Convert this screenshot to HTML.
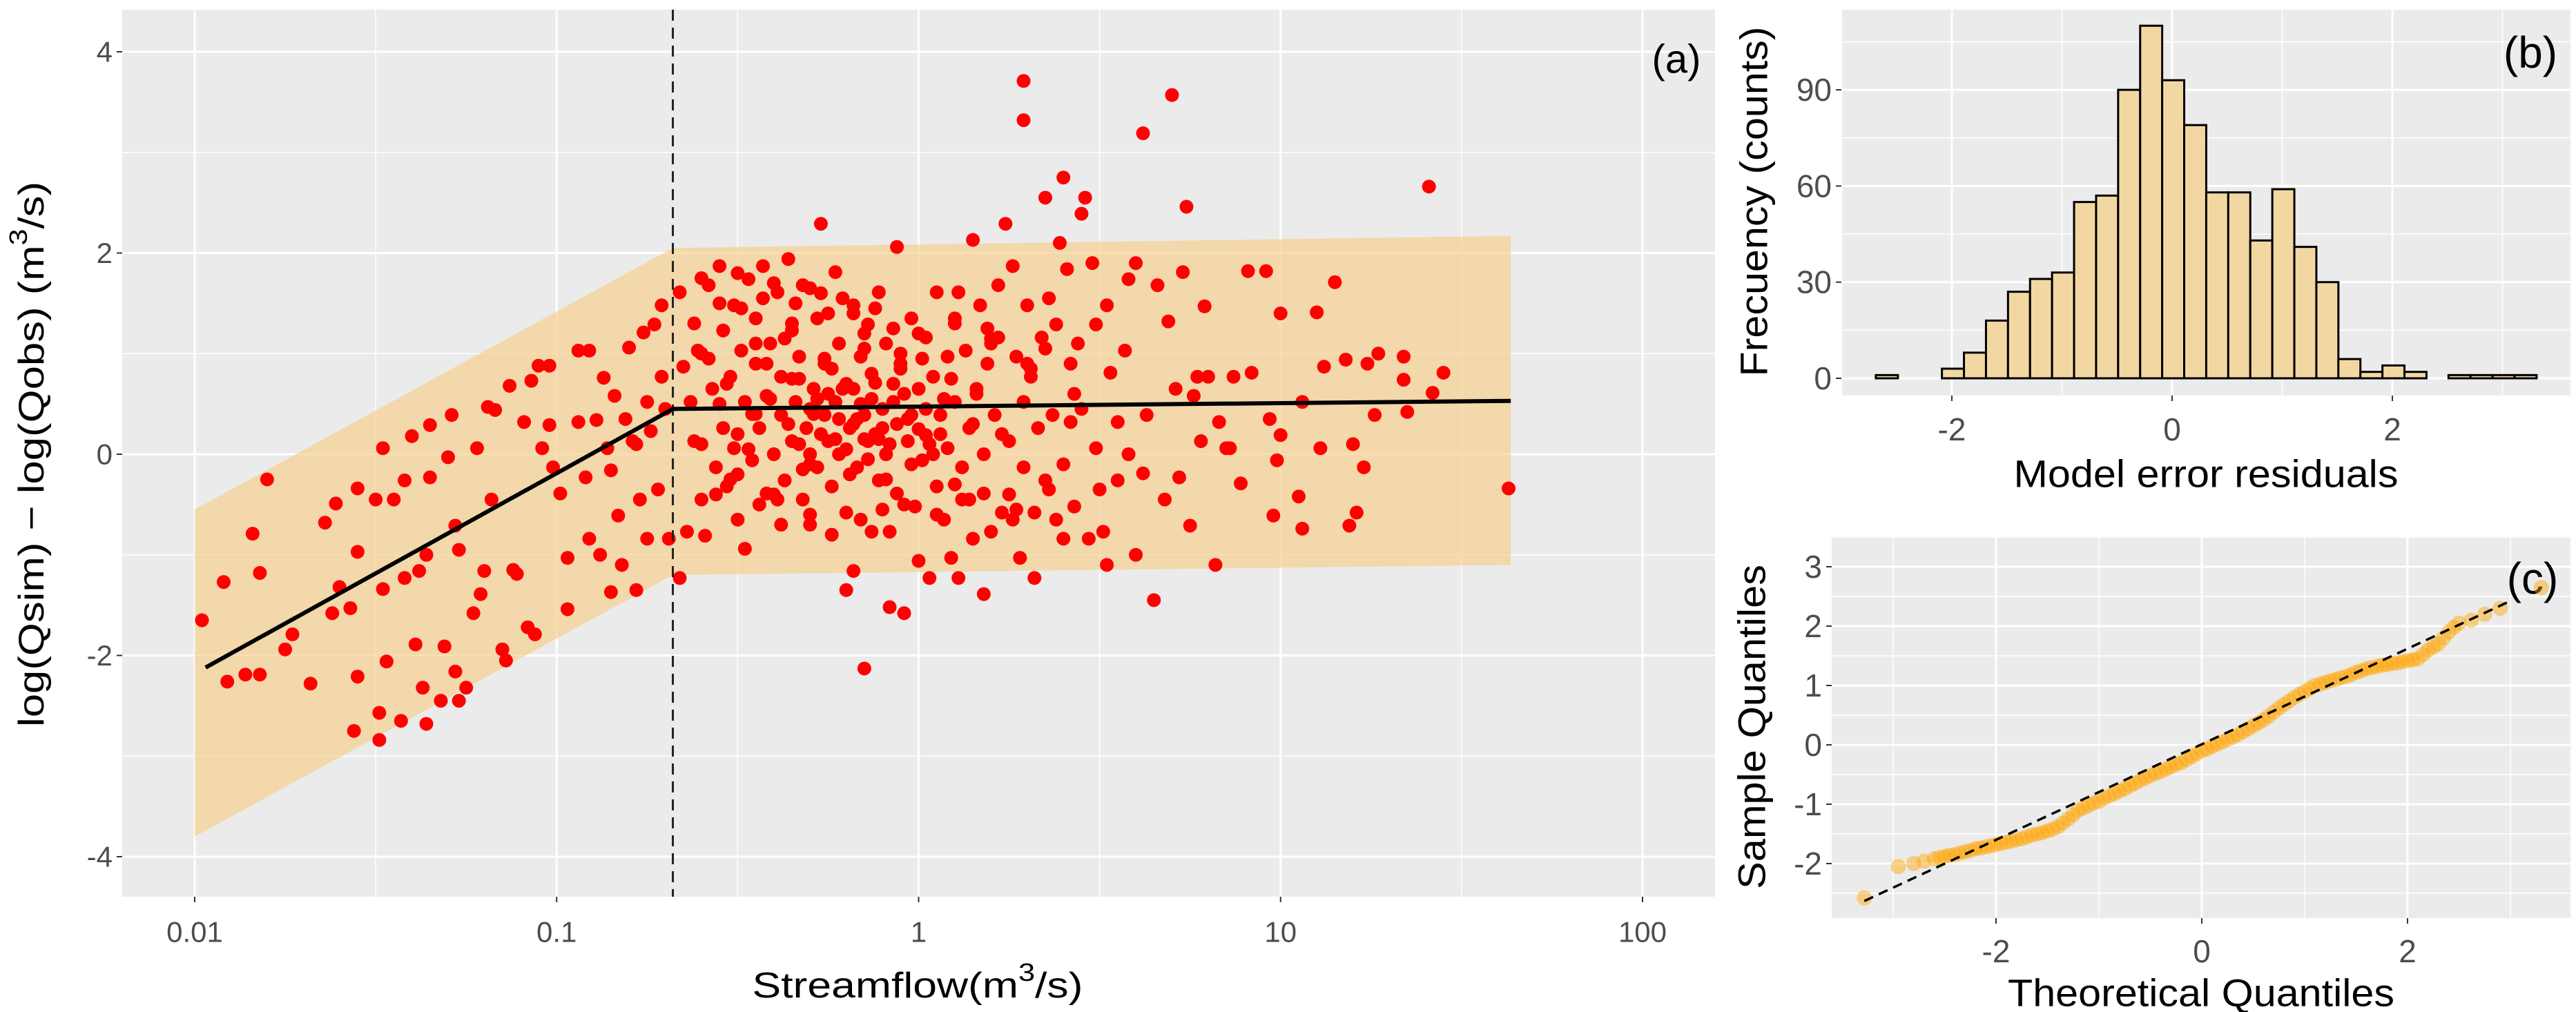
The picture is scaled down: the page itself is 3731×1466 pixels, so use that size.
<!DOCTYPE html>
<html><head><meta charset="utf-8">
<style>
html,body{margin:0;padding:0;background:#fff;}
svg{display:block;font-family:"Liberation Sans",Arial,sans-serif;}
</style></head>
<body>
<svg id="fig" width="3731" height="1466" viewBox="0 0 3731 1466" xmlns="http://www.w3.org/2000/svg">
<g id="pa"></g>
<g id="pb"></g>
<g id="pc"></g>
</svg>
<script>
// ---- Panel (a) data: [log10(streamflow), residual] ----
const scatterLogQ = [-1.98,-1.92,-1.91,-1.86,-1.84,-1.82,-1.82,-1.80,-1.75,-1.73,-1.68,-1.64,-1.61,-1.62,-1.60,-1.57,-1.55,-1.55,-1.55,-1.56,-1.50,-1.49,-1.49,-1.48,-1.48,-1.47,-1.45,-1.43,-1.42,-1.42,-1.40,-1.39,-1.38,-1.37,-1.36,-1.35,-1.36,-1.35,-1.32,-1.31,-1.30,-1.29,-1.28,-1.28,-1.27,-1.27,-1.25,-1.23,-1.22,-1.21,-1.19,-1.20,-1.18,-1.17,-1.15,-1.14,-1.13,-1.12,-1.11,-1.09,-1.08,-1.07,-1.06,-1.05,-1.04,-1.02,-1.02,-1.01,-0.99,-0.97,-0.97,-0.94,-0.94,-0.92,-0.91,-0.91,-0.89,-0.88,-0.87,-0.86,-0.85,-0.85,-0.84,-0.83,-0.82,-0.81,-0.80,-0.79,-0.78,-0.78,-0.77,-0.76,-0.75,-0.75,-0.74,-0.73,-0.72,-0.71,-0.71,-0.70,-0.69,
-0.66,-0.66,-0.65,-0.64,-0.63,-0.62,-0.61,-0.60,-0.59,-0.58,-0.57,-0.56,-0.55,-0.54,-0.54,-0.53,-0.52,-0.51,-0.51,-0.50,-0.49,-0.48,-0.48,-0.47,-0.46,-0.45,-0.45,-0.44,-0.43,-0.42,-0.42,-0.41,-0.40,-0.39,-0.38,-0.38,-0.37,-0.36,-0.35,-0.35,-0.34,-0.33,-0.32,-0.32,-0.31,-0.30,-0.29,-0.28,-0.28,-0.27,-0.26,-0.26,-0.25,-0.24,-0.23,-0.23,-0.22,-0.22,-0.20,-0.20,-0.19,-0.18,-0.18,-0.18,-0.17,-0.16,-0.15,-0.15,-0.14,-0.14,-0.13,-0.12,-0.11,-0.11,-0.10,-0.09,-0.09,-0.08,-0.08,-0.07,-0.06,-0.06,-0.05,-0.04,-0.03,-0.02,-0.02,-0.01,0,0,0.01,0.02,0.02,0.03,0.04,0.05,0.05,0.06,0.07,0.08,0.08,0.09,0.10,0.11,0.11,0.12,0.13,0.14,0.15,0.15,0.16,0.17,0.18,0.18,0.18,0.19,0.20,0.21,0.22,0.22,0.23,0.24,0.25,0.26,0.26,0.27,0.28,0.29,0.29,0.29,0.29,0.30,0.31,0.32,0.32,0.33,0.34,0.35,0.35,0.36,0.37,0.38,0.38,0.39,0.40,0.40,0.41,0.42,0.42,0.43,0.44,0.45,0.46,0.47,0.48,0.49,0.49,0.51,0.52,0.52,0.53,0.55,0.55,0.57,0.58,0.58,0.60,0.60,0.62,0.62,0.63,0.65,0.66,0.68,0.69,0.70,0.71,0.72,0.73,0.74,0.75,0.76,0.77,0.78,0.79,0.80,0.82,0.83,0.85,0.86,0.87,0.89,0.91,0.92,0.96,0.97,0.98,0.99,1.0,1.0,1.05,1.06,1.06,1.10,1.11,1.12,1.15,1.18,1.19,1.20,1.21,1.23,1.24,1.26,1.27,1.34,1.34,1.35,1.41,1.42,1.45,1.63,
-0.36,-0.33,-0.3,-0.27,-0.25,-0.22,-0.2,-0.18,-0.16,-0.14,-0.12,-0.1,-0.08,-0.06,-0.04,-0.02,0,0.02,0.04,0.06,-0.35,-0.3,-0.24,-0.19,-0.13,-0.09,-0.05,-0.2,-0.15,-0.28,-0.45,-0.5,-0.42,-0.55,-0.6,-0.15,-0.25,-0.35,-0.45,-0.05,0.1,0.2,0.15,0.1,-0.4,-0.5,-0.55,-0.6,-0.5,-0.4,-0.3,-0.44,-0.3,
-0.58,-0.53,-0.47,-0.41,-0.37,-0.32,-0.29,-0.26,-0.23,-0.21,-0.17,-0.15,-0.13,-0.11,-0.07,-0.03,0.01,0.03,0.07,0.09,0.12,0.16,0.19,0.23,0.27,0.31,0.35,0.4,0.45,0.5,-0.62,-0.56,-0.49,-0.43,-0.38,-0.34,-0.3,-0.27,-0.24,-0.21,-0.18,-0.16,-0.12,-0.1,-0.07,-0.04,0.0,0.05,0.1,0.14,0.2,0.25,0.3,0.36,0.43,-0.6,-0.52,-0.46,-0.39,-0.33];
const scatterResid = [-1.65,-1.27,-2.26,-2.19,-0.79,-1.18,-2.19,-0.25,-1.94,-1.79,-2.28,-0.68,-0.49,-1.58,-1.32,-1.53,-0.34,-2.21,-0.97,-2.75,-0.45,-2.57,-2.84,-1.34,0.06,-2.06,-0.45,-2.65,-1.23,-0.26,0.18,-1.89,-1.16,-2.32,-2.68,-0.23,-1.0,0.29,-2.45,-1.91,-0.03,0.39,-0.71,-2.16,-2.45,-0.95,-2.32,-1.58,0.06,-1.39,0.47,-1.16,-0.45,0.44,-1.94,-2.05,0.68,-1.15,-1.19,0.32,-1.72,0.73,-1.79,0.88,0.06,0.88,0.29,-0.13,-0.39,-1.03,-1.54,0.32,1.03,-0.23,1.03,-0.84,0.34,-1.0,0.76,0.06,-1.37,-0.16,0.58,-0.61,-1.10,0.35,1.06,0.13,-1.35,0.10,-0.45,1.21,-0.84,0.52,0.23,1.29,-0.35,1.48,0.77,0.45,-0.84,
-1.23,1.61,0.87,-0.77,0.52,0.13,1.03,-0.45,-0.81,1.68,0.65,-0.13,1.87,1.23,0.26,-0.32,0.77,1.48,0.06,-0.65,1.03,0.52,-0.94,1.74,-0.06,0.90,1.35,0.26,1.87,-0.39,0.58,1.10,0.0,1.61,0.39,0.77,-0.26,1.94,0.13,1.23,0.52,0.97,-0.45,1.68,0.26,0.0,0.65,1.35,-0.13,2.29,0.39,0.90,0.13,-0.32,1.81,0.52,1.10,0.0,-0.58,-1.35,0.26,-1.16,1.48,0.65,-0.13,0.97,-2.13,0.39,1.29,0.13,-0.77,0.71,-0.26,1.61,0.26,1.10,0.0,-0.77,-1.52,0.52,2.06,-0.39,0.90,-1.58,0.13,1.35,0.39,-0.52,0.65,-1.06,-0.06,1.16,0.19,-1.23,0.77,-0.32,1.61,0.39,-0.65,0.97,0.06,-1.03,0.52,1.61,-1.23,-0.13,1.03,0.26,2.13,-0.84,0.65,1.48,-0.39,-1.39,0.0,0.90,-0.77,0.39,1.68,1.16,-0.58,2.29,0.13,-0.65,1.87,0.97,-1.03,3.71,3.32,-0.13,0.52,1.48,0.77,-1.23,-0.58,0.26,1.16,2.55,-0.26,1.55,0.39,1.29,-0.65,2.10,2.75,-0.84,1.84,0.90,0.32,-0.52,1.10,2.39,2.55,-0.84,1.90,0.06,1.29,-0.77,-1.10,1.48,0.81,-0.26,0.32,1.03,1.74,0.0,-1.0,1.90,3.19,-0.19,0.39,-1.45,1.68,-0.45,1.32,3.57,0.65,-0.23,1.81,2.46,-0.71,0.58,0.77,0.13,1.47,0.77,-1.10,0.32,0.06,0.06,0.77,-0.29,1.82,0.81,1.82,0.35,-0.61,-0.06,1.4,0.19,-0.42,-0.74,0.52,1.41,0.06,0.87,1.71,0.94,-0.71,0.10,-0.58,-0.13,0.90,0.39,1.0,0.74,0.97,0.42,2.66,0.61,0.81,-0.34,
0.3,0.1,0.45,0.2,0.6,0.35,0.05,0.3,0.5,-0.05,0.2,0.45,0.1,0.3,0.6,-0.1,0.25,0.45,0.0,0.2,0.75,-0.1,0.85,-0.2,0.8,-0.25,0.85,0.7,0.15,0.55,0.4,0.2,0.9,0.5,0.1,1.2,1.4,1.3,1.1,1.0,1.3,1.1,0.3,-0.3,-0.4,-0.2,1.5,1.75,1.8,1.7,1.65,-0.5,-0.6,
0.95,0.7,0.05,0.55,1.15,-0.15,0.4,0.95,0.15,0.65,0.35,1.05,0.55,0.15,0.7,0.35,0.95,0.1,0.55,0.75,-0.45,0.6,1.25,0.2,-0.55,0.85,1.05,-0.1,0.45,-0.35,1.3,-0.4,1.45,1.55,-0.7,1.5,-0.7,1.6,-0.8,1.55,1.4,-0.65,1.45,-0.55,1.25,-0.5,1.2,-0.6,1.35,-0.45,1.15,-0.4,0.9,-0.35,0.6,1.0,-0.25,0.4,-0.45,0.75];
const ribbonLogQ = [-2, -0.679, 1.636];
const ribbonUpper = [-0.55, 2.05, 2.17];
const ribbonLower = [-3.8, -1.2, -1.1];
const fitLogQ = [-1.97, -0.679, 1.636];
const fitResid = [-2.12, 0.45, 0.53];
const breakLogQ = -0.679;
const aXTicks = [-2,-1,0,1,2];
const aXTickLabels = ["0.01","0.1","1","10","100"];
const aYTicks = [-4,-2,0,2,4];

// ---- Panel (b) data ----
const histStart = -2.69;
const histWidth = 0.2;
const histCounts = [1,0,0,3,8,18,27,31,33,55,57,90,110,93,79,58,58,43,59,41,30,6,2,4,2,0,1,1,1,1];
const bXTicks = [-2,0,2];
const bYTicks = [0,30,60,90];

// ---- Panel (c) data ----
const qqTheo = [-3.28,-2.95,-2.8,-2.7,-2.6,-2.55,-2.5,-2.45,-2.4,-2.35,-2.3,-2.25,-2.2,-2.15,-2.1,-2.05,-2.0,-1.95,-1.9,-1.85,-1.8,-1.75,-1.7,-1.65,-1.6,-1.55,-1.5,-1.45,-1.4,-1.35,-1.3,-1.25,-1.2,-1.15,-1.1,-1.05,-1.0,-0.95,-0.9,-0.85,-0.8,-0.75,-0.7,-0.65,-0.6,-0.55,-0.5,-0.45,-0.4,-0.35,-0.3,-0.25,-0.2,-0.15,-0.1,-0.05,0,0.05,0.1,0.15,0.2,0.25,0.3,0.35,0.4,0.45,0.5,0.55,0.6,0.65,0.7,0.75,0.8,0.85,0.9,0.95,1.0,1.05,1.1,1.15,1.2,1.25,1.3,1.35,1.4,1.45,1.5,1.55,1.6,1.65,1.7,1.75,1.8,1.85,1.9,1.95,2.0,2.05,2.1,2.15,2.2,2.25,2.3,2.35,2.4,2.45,2.5,2.62,2.75,2.9,3.3];
const qqSample = [-2.58,-2.05,-2.0,-1.96,-1.92,-1.9,-1.88,-1.86,-1.85,-1.82,-1.8,-1.78,-1.75,-1.74,-1.72,-1.7,-1.68,-1.66,-1.64,-1.62,-1.6,-1.58,-1.55,-1.52,-1.5,-1.48,-1.45,-1.42,-1.38,-1.32,-1.25,-1.18,-1.1,-1.06,-1.02,-0.98,-0.95,-0.9,-0.86,-0.82,-0.78,-0.74,-0.69,-0.65,-0.6,-0.56,-0.52,-0.48,-0.45,-0.41,-0.37,-0.33,-0.3,-0.25,-0.2,-0.15,-0.1,-0.07,-0.03,0.01,0.05,0.09,0.13,0.17,0.22,0.27,0.32,0.37,0.42,0.48,0.55,0.62,0.68,0.74,0.8,0.85,0.9,0.95,1.0,1.02,1.05,1.08,1.1,1.13,1.15,1.18,1.22,1.25,1.28,1.3,1.32,1.34,1.35,1.37,1.38,1.4,1.42,1.43,1.45,1.52,1.6,1.65,1.7,1.8,1.9,1.98,2.05,2.1,2.2,2.3,2.65,2.75,3.05,3.2];
const qqLineTheo = [-3.28, 3.02];
const qqLineSample = [-2.63, 2.44];
const cXTicks = [-2,0,2];
const cYTicks = [-2,-1,0,1,2,3];

const NS = "http://www.w3.org/2000/svg";
function mk(parent, tag, attrs){ const e=document.createElementNS(NS,tag); for(const k in attrs) e.setAttribute(k,attrs[k]); parent.appendChild(e); return e; }
function txt(parent, x, y, s, size, anchor, fill, extra){ const t=mk(parent,'text',Object.assign({x:x,y:y,'font-size':size,'text-anchor':anchor,fill:fill,'dominant-baseline':'central'},extra||{})); t.textContent=s; return t; }

// ============ Panel A ============
(function(){
  const g=document.getElementById('pa');
  const L=177,R=2484,T=14,B=1299;
  const sx=v=>282+(v+2)*524.25, sy=v=>658-v*145.75;
  const bg=mk(g,'rect',{x:L,y:T,width:R-L,height:B-T,fill:'#ebebeb'});
   
  for(let i=0;i<aXTicks.length;i++){ const v=aXTicks[i]+0.5; const x=sx(v); if(x<R) mk(g,'line',{x1:x,x2:x,y1:T,y2:B,stroke:'#fff','stroke-width':1.5}); }
  for(let v=-3;v<=3;v+=2){ mk(g,'line',{x1:L,x2:R,y1:sy(v),y2:sy(v),stroke:'#fff','stroke-width':1.5}); }
  for(let i=0;i<aXTicks.length;i++){ const x=sx(aXTicks[i]);
    mk(g,'line',{x1:x,x2:x,y1:T,y2:B,stroke:'#fff','stroke-width':3});
    mk(g,'line',{x1:x,x2:x,y1:B,y2:B+8,stroke:'#333','stroke-width':2});
    const t=txt(g,x,1350,aXTickLabels[i],42,'middle','#4d4d4d');
      }
  for(const v of aYTicks){ const y=sy(v);
    mk(g,'line',{x1:L,x2:R,y1:y,y2:y,stroke:'#fff','stroke-width':3});
    mk(g,'line',{x1:L-8,x2:L,y1:y,y2:y,stroke:'#333','stroke-width':2});
    const t=txt(g,L-14,y,String(v),42,'end','#4d4d4d');
      }
  let d='M'+ribbonLogQ.map((v,i)=>sx(v)+','+sy(ribbonUpper[i])).join(' L');
  for(let i=ribbonLogQ.length-1;i>=0;i--) d+=' L'+sx(ribbonLogQ[i])+','+sy(ribbonLower[i]);
  const rb=mk(g,'path',{d:d+'Z',fill:'#f5d08e','fill-opacity':0.7});
   
  const pg=mk(g,'g',{fill:'#ff0000'});
   
  const n=Math.min(scatterLogQ.length,scatterResid.length);
  for(let i=0;i<n;i++){ const c=mk(pg,'circle',{cx:sx(scatterLogQ[i]),cy:sy(scatterResid[i]),r:10});
      }
  const br=mk(g,'line',{x1:sx(breakLogQ),x2:sx(breakLogQ),y1:T,y2:B,stroke:'#222','stroke-width':3,'stroke-dasharray':'16,10'});
   
  const fl=mk(g,'polyline',{points:fitLogQ.map((v,i)=>sx(v)+','+sy(fitResid[i])).join(' '),fill:'none',stroke:'#000','stroke-width':6});
   
  const la=txt(g,2428,86,'(a)',58,'middle','#000');
   
  const xt=mk(g,'text',{x:1329,y:1428,'font-size':52,'text-anchor':'middle','dominant-baseline':'central',fill:'#000',textLength:479,lengthAdjust:'spacingAndGlyphs'});
  xt.innerHTML='Streamflow(m<tspan dy="-20" font-size="36">3</tspan><tspan dy="20">/s)</tspan>';
   
  const yt=mk(g,'text',{x:0,y:0,'font-size':52,'text-anchor':'middle','dominant-baseline':'central',fill:'#000',transform:'translate(46,658) rotate(-90)',textLength:790,lengthAdjust:'spacingAndGlyphs'});
  yt.innerHTML='log(Qsim) − log(Qobs) (m<tspan dy="-20" font-size="36">3</tspan><tspan dy="20">/s)</tspan>';
   
})();

// ============ Panel B ============
(function(){
  const g=document.getElementById('pb');
  const L=2667,R=3723,T=14,B=573;
  const sx=v=>3146+v*159.5, sy=v=>548-v*4.643;
  const bg=mk(g,'rect',{x:L,y:T,width:R-L,height:B-T,fill:'#ebebeb'});
   
  for(let v=-3;v<=3;v+=2) mk(g,'line',{x1:sx(v),x2:sx(v),y1:T,y2:B,stroke:'#fff','stroke-width':1.5});
  for(let v=15;v<=105;v+=30) mk(g,'line',{x1:L,x2:R,y1:sy(v),y2:sy(v),stroke:'#fff','stroke-width':1.5});
  for(const v of bXTicks){ const x=sx(v);
    mk(g,'line',{x1:x,x2:x,y1:T,y2:B,stroke:'#fff','stroke-width':3});
    mk(g,'line',{x1:x,x2:x,y1:B,y2:B+8,stroke:'#333','stroke-width':2});
    const t=txt(g,x,622,v<0?'-'+Math.abs(v):String(v),46,'middle','#4d4d4d');
      }
  for(const v of bYTicks){ const y=sy(v);
    mk(g,'line',{x1:L,x2:R,y1:y,y2:y,stroke:'#fff','stroke-width':3});
    mk(g,'line',{x1:L-8,x2:L,y1:y,y2:y,stroke:'#333','stroke-width':2});
    const t=txt(g,L-14,y,String(v),46,'end','#4d4d4d');
      }
  const hg=mk(g,'g',{fill:'#f3d7a2',stroke:'#000','stroke-width':3});
   
  for(let i=0;i<histCounts.length;i++){ const x0=sx(histStart+i*histWidth), x1=sx(histStart+(i+1)*histWidth);
    const r=mk(hg,'rect',{x:x0,y:sy(histCounts[i]),width:x1-x0,height:sy(0)-sy(histCounts[i])});
      }
  const lb=txt(g,3665,76,'(b)',64,'middle','#000');
   
  const xt=txt(g,3195,686,'Model error residuals',56,'middle','#000',{textLength:557,lengthAdjust:'spacingAndGlyphs'});
   
  const yt=txt(g,0,0,'Frecuency (counts)',56,'middle','#000',{transform:'translate(2540,292) rotate(-90)',textLength:507,lengthAdjust:'spacingAndGlyphs'});
   
})();

// ============ Panel C ============
(function(){
  const g=document.getElementById('pc');
  const L=2653,R=3723,T=778,B=1330;
  const sx=v=>3189+v*149, sy=v=>1079-v*86;
  const bg=mk(g,'rect',{x:L,y:T,width:R-L,height:B-T,fill:'#ebebeb'});
   
  for(let v=-3;v<=3;v+=2) mk(g,'line',{x1:sx(v),x2:sx(v),y1:T,y2:B,stroke:'#fff','stroke-width':1.5});
  for(let v=-2.5;v<=3.5;v+=1) mk(g,'line',{x1:L,x2:R,y1:sy(v),y2:sy(v),stroke:'#fff','stroke-width':1.5});
  for(const v of cXTicks){ const x=sx(v);
    mk(g,'line',{x1:x,x2:x,y1:T,y2:B,stroke:'#fff','stroke-width':3});
    mk(g,'line',{x1:x,x2:x,y1:B,y2:B+8,stroke:'#333','stroke-width':2});
    const t=txt(g,x,1378,v<0?'-'+Math.abs(v):String(v),46,'middle','#4d4d4d');
      }
  for(const v of cYTicks){ const y=sy(v);
    mk(g,'line',{x1:L,x2:R,y1:y,y2:y,stroke:'#fff','stroke-width':3});
    mk(g,'line',{x1:L-8,x2:L,y1:y,y2:y,stroke:'#333','stroke-width':2});
    const t=txt(g,L-14,y,v<0?'-'+Math.abs(v):String(v),46,'end','#4d4d4d');
      }
  const lc=txt(g,3668,838,'(c)',64,'middle','#000');
   
  const pg=mk(g,'g',{fill:'#ffa500','fill-opacity':0.45});
   
  for(let i=0;i<qqTheo.length;i++){ const c=mk(pg,'circle',{cx:sx(qqTheo[i]),cy:sy(qqSample[i]),r:11});
      }
  const ql=mk(g,'line',{x1:sx(qqLineTheo[0]),y1:sy(qqLineSample[0]),x2:sx(qqLineTheo[1]),y2:sy(qqLineSample[1]),stroke:'#000','stroke-width':3.5,'stroke-dasharray':'14,9'});
   
  const xt=txt(g,3188,1438,'Theoretical Quantiles',56,'middle','#000',{textLength:560,lengthAdjust:'spacingAndGlyphs'});
   
  const yt=txt(g,0,0,'Sample Quantiles',56,'middle','#000',{transform:'translate(2537,1053) rotate(-90)',textLength:470,lengthAdjust:'spacingAndGlyphs'});
   
})();
</script>
</body></html>
